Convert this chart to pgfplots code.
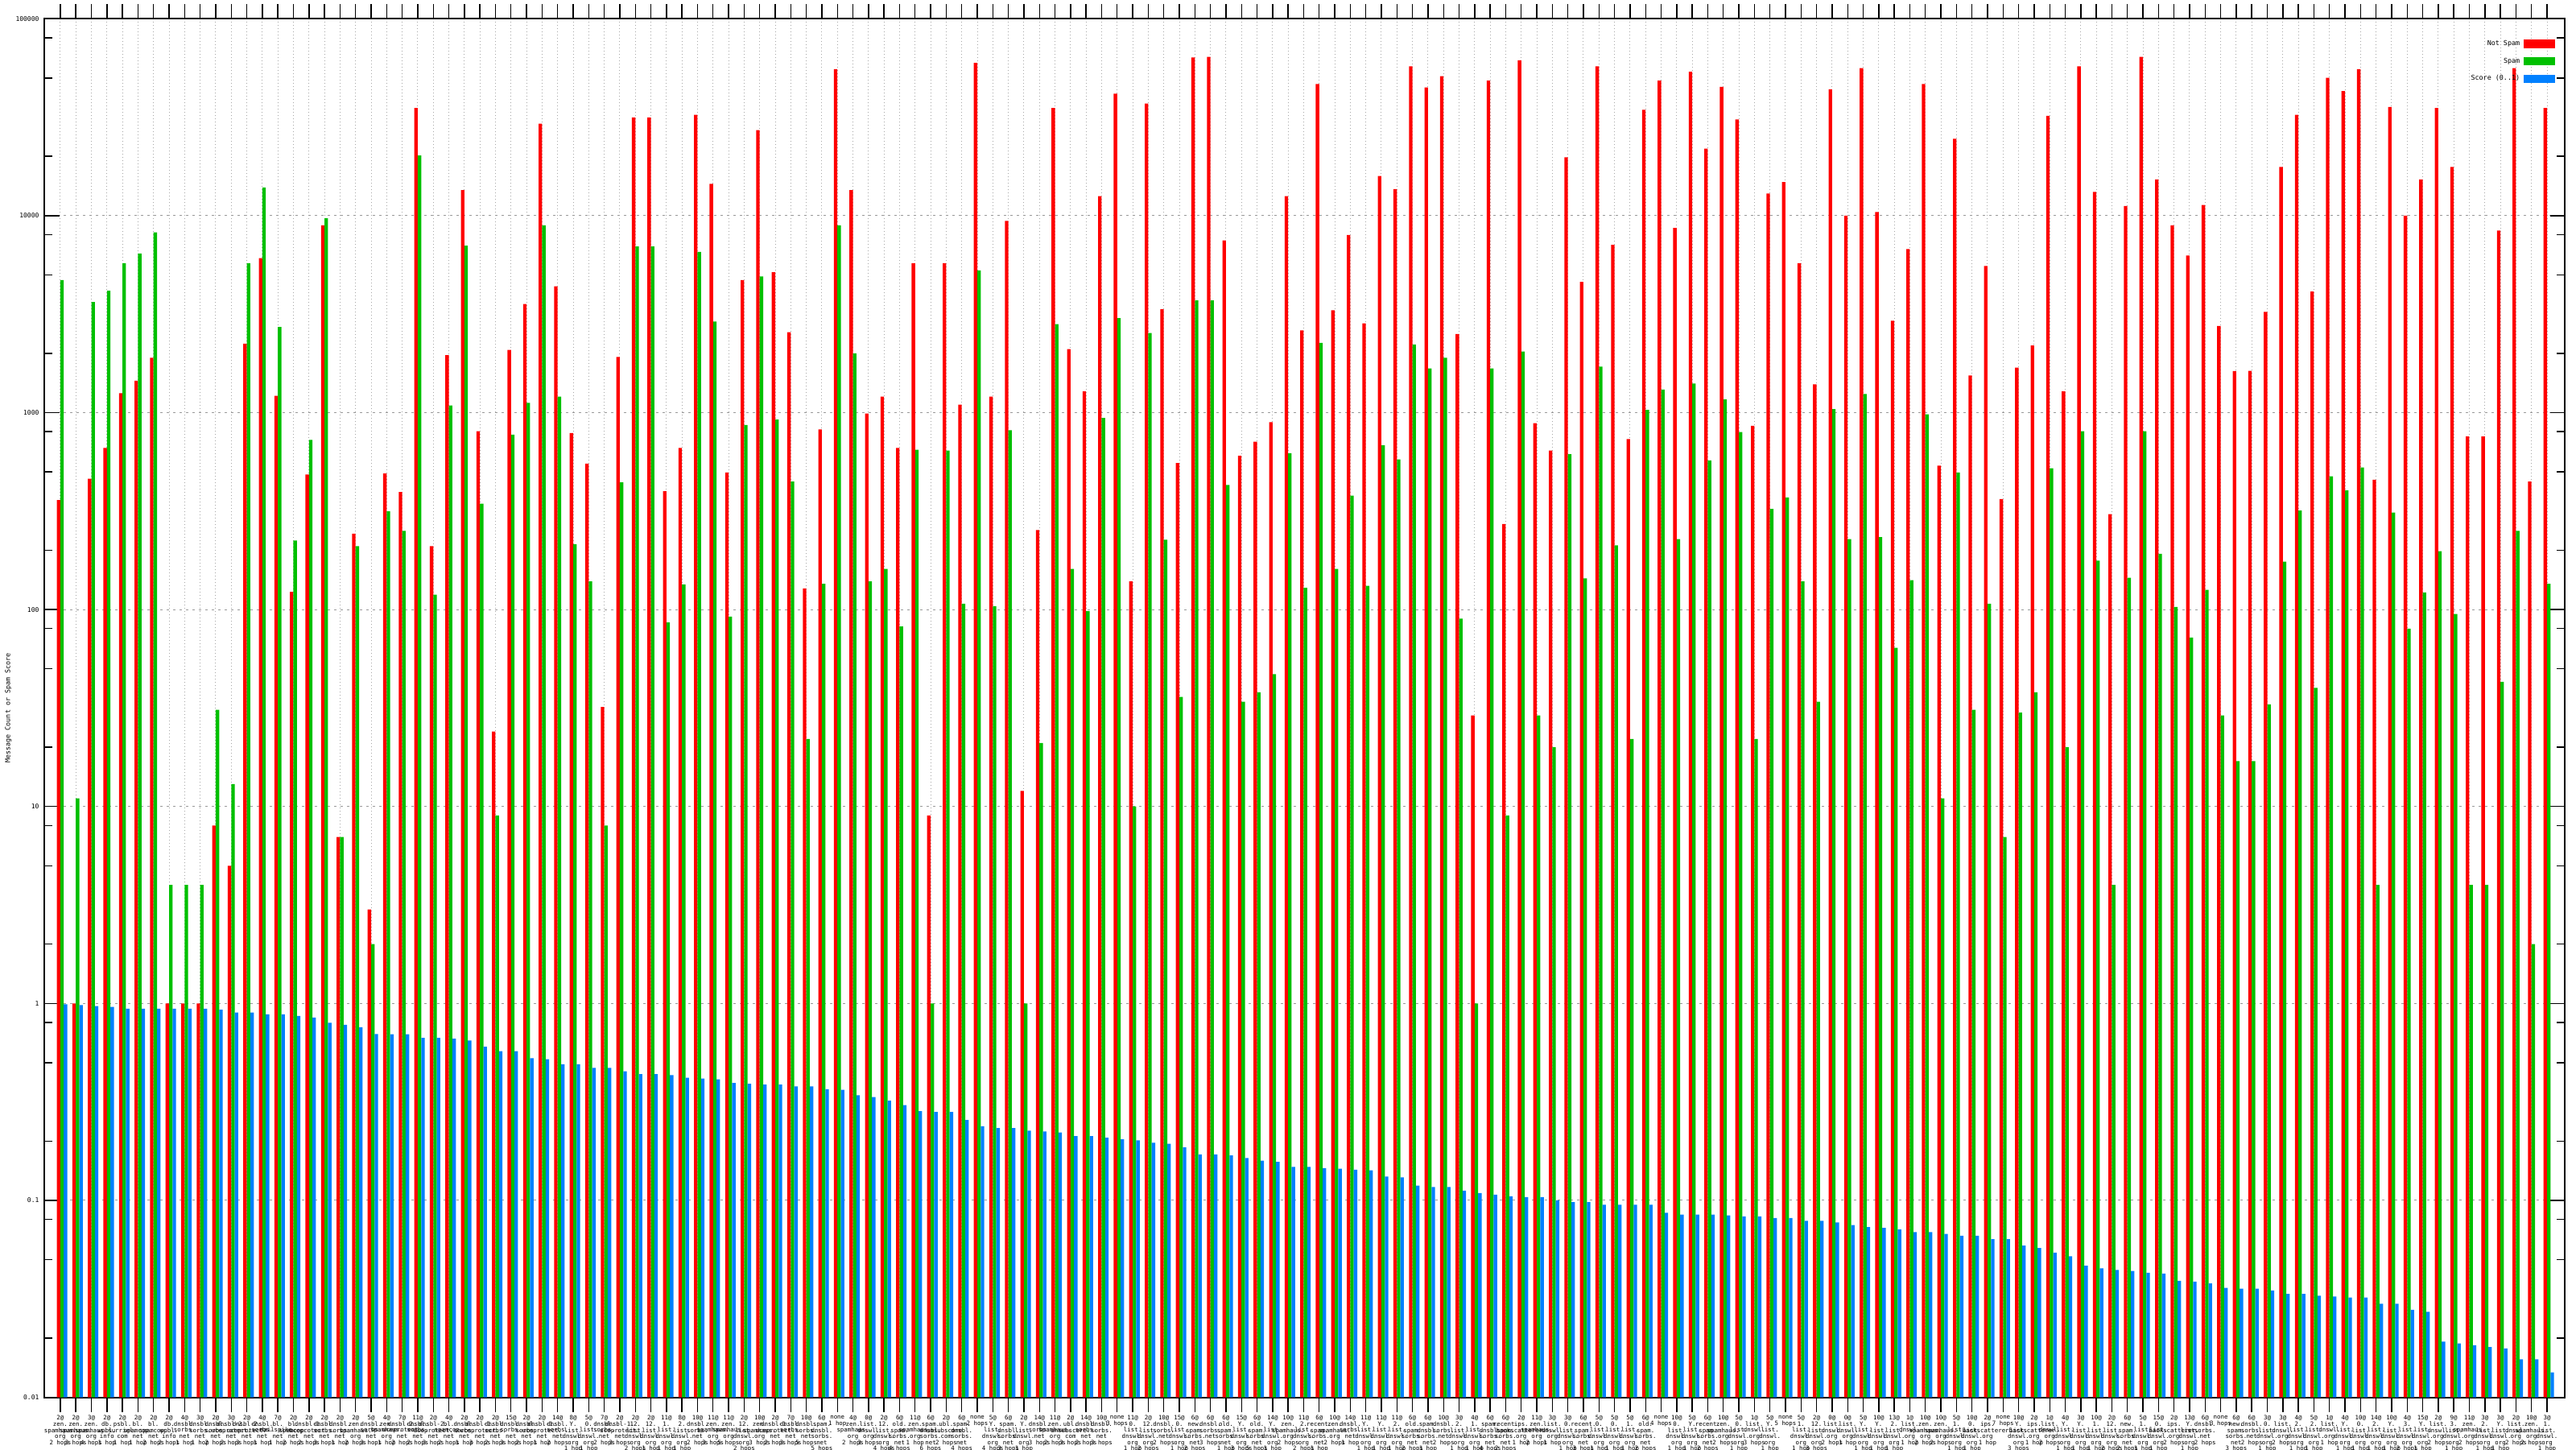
\documentclass[border=0pt]{standalone}
\usepackage{fontspec}
\setmonofont{DejaVu Sans Mono}
\usepackage{pgfplots}
\usepackage{pgfplotstable}
\pgfplotsset{compat=1.18}
\definecolor{nsred}{RGB}{255,0,0}
\definecolor{spgreen}{RGB}{0,192,0}
\definecolor{scblue}{RGB}{0,128,255}
\newcommand\lZ{zen.\\spamhaus.\\org}
\newcommand\lW{db.\\wpbl.\\info}
\newcommand\lP{psbl.\\surriel.\\com}
\newcommand\lC{bl.\\spamcop.\\net}
\newcommand\lS{dnsbl.\\sorbs.\\net}
\newcommand\lU{dnsbl-1.\\uceprotect.\\net}
\newcommand\lV{dnsbl-2.\\uceprotect.\\net}
\newcommand\lM{bl.\\mailspike.\\net}
\newcommand\lL{list.\\dnswl.\\org}
\newcommand\lD[1]{#1.\\list.\\dnswl.\\org}
\newcommand\lB{ips.\\backscatterer.\\org}
\newcommand\lN{new.\\spam.\\sorbs.\\net}
\newcommand\lO{old.\\spam.\\sorbs.\\net}
\newcommand\lR{recent.\\spam.\\sorbs.\\net}
\newcommand\lH{ubl.\\unsubscore.\\com}
\newcommand\lQ{spam.\\dnsbl.\\sorbs.\\net}
\pgfplotstableread{
x r g b
1 360 4710 0.99
2 1 11 0.98
3 461 3640 0.97
4 662 4160 0.96
5 1255 5730 0.94
6 1450 6420 0.94
7 1897 8220 0.94
8 1 4 0.94
9 1 4 0.94
10 1 4 0.94
11 8 31 0.93
12 5 13 0.90
13 2240 5730 0.90
14 6090 13900 0.88
15 1217 2723 0.88
16 123 224 0.865
17 485 726 0.848
18 8930 9700 0.797
19 7 7 0.78
20 243 210 0.757
21 3 2 0.70
22 491 315 0.697
23 395 251 0.697
24 35200 20200 0.668
25 210 119 0.668
26 1956 1086 0.662
27 13490 7040 0.648
28 805 345 0.603
29 24 9 0.573
30 2080 773 0.573
31 3560 1120 0.527
32 29300 8930 0.521
33 4380 1205 0.491
34 788 215 0.491
35 550 139 0.471
36 32 8 0.471
37 1917 442 0.452
38 31500 6970 0.438
39 31500 6970 0.438
40 399 86 0.433
41 662 134 0.420
42 32500 6550 0.416
43 14500 2897 0.412
44 496 92 0.395
45 4710 865 0.391
46 27200 4910 0.387
47 5160 921 0.387
48 2560 447 0.379
49 128 22 0.379
50 822 135 0.367
51 55500 8930 0.364
52 13490 1997 0.342
53 990 139 0.335
54 1205 161 0.321
55 662 82 0.305
56 5730 648 0.284
57 9 1 0.281
58 5730 642 0.281
59 1097 107 0.256
60 59700 5270 0.238
61 1205 104 0.233
62 9400 813 0.233
63 12 1 0.226
64 253 21 0.224
65 35200 2810 0.221
66 2100 161 0.212
67 1282 98 0.212
68 12550 940 0.208
69 41600 3020 0.204
70 139 10 0.202
71 37100 2535 0.196
72 3350 226 0.194
73 555 36 0.186
74 63500 3715 0.171
75 64000 3715 0.171
76 7490 429 0.169
77 603 34 0.164
78 711 38 0.159
79 893 47 0.157
80 12550 622 0.148
81 2612 129 0.148
82 46600 2260 0.146
83 3311 161 0.145
84 7970 379 0.143
85 2837 132 0.142
86 15900 682 0.132
87 13640 578 0.131
88 57300 2215 0.119
89 44700 1675 0.117
90 51100 1897 0.117
91 2506 90 0.112
92 29 1 0.109
93 48500 1675 0.107
94 272 9 0.105
95 61500 2040 0.104
96 884 29 0.104
97 642 20 0.100
98 19800 615 0.098
99 4610 144 0.098
100 57300 1711 0.095
101 7110 212 0.095
102 733 22 0.095
103 34500 1031 0.095
104 48500 1309 0.0865
105 8650 228 0.0848
106 53800 1406 0.0848
107 21900 572 0.0848
108 45100 1167 0.0839
109 30800 797 0.083
110 857 22 0.083
111 12940 324 0.0813
112 14800 371 0.0813
113 5730 139 0.0788
114 1390 34 0.0788
115 43800 1042 0.0773
116 10000 228 0.0749
117 56100 1242 0.0733
118 10420 233 0.0726
119 2926 64 0.0711
120 6760 141 0.069
121 46600 980 0.069
122 538 11 0.0676
123 24550 496 0.0662
124 1542 31 0.0662
125 5550 107 0.0635
126 364 7 0.0635
127 1693 30 0.059
128 2193 38 0.0573
129 32100 522 0.0543
130 1282 20 0.0521
131 57300 805 0.0466
132 13200 177 0.0452
133 305 4 0.0443
134 11200 145 0.0438
135 64000 805 0.0429
136 15280 192 0.0425
137 8930 103 0.0391
138 6280 72 0.0387
139 11320 126 0.0379
140 2750 29 0.036
141 1625 17 0.0356
142 1630 17 0.0356
143 3245 33 0.0349
144 17650 175 0.0335
145 32500 318 0.0335
146 4115 40 0.0328
147 50100 475 0.0325
148 42900 403 0.0321
149 55500 527 0.0321
150 456 4 0.0299
151 35600 311 0.0299
152 10000 80 0.0278
153 15280 122 0.0272
154 35200 198 0.0192
155 17650 95 0.0188
156 757 4 0.0184
157 757 4 0.018
158 8390 43 0.0177
159 56100 251 0.0156
160 447 2 0.0156
161 35200 135 0.0134
}\rbl
\pgfplotsset{mylegend/.style={legend image code/.code={\fill[##1,draw=none] (0pt,-1.3pt) rectangle (9.8pt,1.3pt);}}}
\begin{document}
\begin{tikzpicture}
\begin{axis}[
  scale only axis, width=782.7pt, height=428.1pt,
  at={(0pt,0pt)}, anchor=south west,
  ymode=log, log origin y=infty,
  ymin=0.01, ymax=100000, xmin=-0.02, xmax=162.14,
  ybar, bar width=0.225,
  axis line style={line width=0.5pt},
  tick style={black, line width=0.35pt},
  major tick length=4.6pt, minor tick length=2.5pt,
  xmajorgrids, ymajorgrids,
  major x grid style={gray!70, line width=0.25pt, dash pattern=on 0.25pt off 0.75pt},
  major y grid style={gray!80, line width=0.25pt, dash pattern=on 0.8pt off 1.2pt},
  ytick={0.01,0.1,1,10,100,1000,10000,100000},
  yticklabels={0.01,0.1,1,10,100,1000,10000,100000},
  minor ytick={0.02,0.05,0.08,0.2,0.5,0.8,2,5,8,20,50,80,200,500,800,2000,5000,8000,20000,50000,80000},
  yticklabel style={font=\fontsize{2}{2.4}\selectfont\ttfamily, anchor=east, inner sep=0pt, xshift=-1.5pt},
  xtick={1,...,161},
  xticklabel style={font=\fontsize{1.85}{1.9}\selectfont\ttfamily, align=center, anchor=north, inner sep=0pt, yshift=-0.9pt},
  xticklabels={
{2@\\\lZ\\2 hops},{2@\\\lZ\\3 hops},{3@\\\lZ\\4 hops},{2@\\\lW\\1 hop},{2@\\\lP\\1 hop},
{2@\\\lC\\1 hop},{2@\\\lC\\2 hops},{2@\\\lW\\2 hops},{4@\\\lS\\1 hop},{3@\\\lS\\1 hop},
{2@\\\lS\\2 hops},{3@\\\lV\\2 hops},{2@\\\lV\\3 hops},{4@\\\lS\\1 hop},{7@\\\lM\\1 hop},
{2@\\\lC\\2 hops},{2@\\\lU\\2 hops},{2@\\\lS\\3 hops},{2@\\\lS\\1 hop},{2@\\\lZ\\2 hops},
{5@\\\lS\\3 hops},{4@\\\lZ\\1 hop},{7@\\\lV\\2 hops},{11@\\\lS\\2 hops},{2@\\\lV\\3 hops},
{4@\\\lC\\2 hops},{2@\\\lS\\1 hop},{2@\\\lU\\3 hops},{2@\\\lS\\2 hops},{15@\\\lS\\3 hops},
{2@\\\lS\\2 hops},{2@\\\lU\\1 hop},{14@\\\lS\\2 hops},{8@\\\lD{Y}\\1 hop},{5@\\\lD{0}\\1 hop},
{7@\\\lS\\2 hops},{2@\\\lU\\3 hops},{2@\\\lD{12}\\2 hops},{2@\\\lD{12}\\1 hop},{11@\\\lD{1}\\1 hop},
{8@\\\lD{2}\\1 hop},{10@\\\lS\\2 hops},{11@\\\lZ\\3 hops},{11@\\\lZ\\5 hops},{2@\\\lD{12}\\2 hops},
{10@\\\lZ\\3 hops},{2@\\\lU\\2 hops},{7@\\\lS\\3 hops},{10@\\\lS\\5 hops},{6@\\\lQ\\5 hops},
{none\\1 hop},{4@\\\lZ\\2 hops},{0@\\\lL\\3 hops},{2@\\\lD{12}\\4 hops},{6@\\\lO\\4 hops},
{11@\\\lZ\\1 hop},{6@\\\lQ\\6 hops},{2@\\\lH\\2 hops},{6@\\\lQ\\4 hops},{none\\2 hops},
{5@\\\lD{Y}\\4 hops},{6@\\\lQ\\3 hops},{2@\\\lD{Y}\\1 hop},{14@\\\lS\\3 hops},{11@\\\lZ\\2 hops},
{2@\\\lH\\3 hops},{14@\\\lS\\2 hops},{10@\\\lS\\3 hops},{none\\3 hops},{11@\\\lD{0}\\1 hop},
{2@\\\lD{12}\\2 hops},{10@\\\lS\\2 hops},{15@\\\lD{0}\\1 hop},{6@\\\lN\\2 hops},{6@\\\lS\\3 hops},
{6@\\\lO\\1 hop},{15@\\\lD{Y}\\3 hops},{6@\\\lO\\5 hops},{14@\\\lD{Y}\\1 hop},{10@\\\lZ\\2 hops},
{11@\\\lD{2}\\2 hops},{6@\\\lR\\1 hop},{10@\\\lZ\\2 hops},{14@\\\lS\\1 hop},{11@\\\lD{Y}\\1 hop},
{11@\\\lD{Y}\\1 hop},{11@\\\lD{2}\\1 hop},{6@\\\lO\\2 hops},{6@\\\lQ\\1 hop},{10@\\\lS\\2 hops},
{3@\\\lD{2}\\1 hop},{4@\\\lD{1}\\1 hop},{6@\\\lQ\\4 hops},{6@\\\lR\\2 hops},{2@\\\lB\\1 hop},
{11@\\\lZ\\2 hops},{3@\\\lL\\1 hop},{3@\\\lD{0}\\1 hop},{6@\\\lR\\3 hops},{5@\\\lD{0}\\1 hop},
{5@\\\lD{0}\\1 hop},{5@\\\lD{1}\\1 hop},{6@\\\lO\\2 hops},{none\\4 hops},{10@\\\lD{0}\\1 hop},
{5@\\\lD{Y}\\1 hop},{6@\\\lR\\2 hops},{10@\\\lZ\\2 hops},{5@\\\lD{0}\\1 hop},{1@\\\lL\\3 hops},
{5@\\\lD{Y}\\1 hop},{none\\5 hops},{5@\\\lD{1}\\1 hop},{2@\\\lD{12}\\3 hops},{0@\\\lL\\2 hops},
{0@\\\lL\\1 hop},{5@\\\lD{Y}\\1 hop},{10@\\\lD{Y}\\1 hop},{13@\\\lD{2}\\1 hop},{1@\\\lL\\1 hop},
{10@\\\lZ\\2 hops},{10@\\\lZ\\2 hops},{5@\\\lD{1}\\1 hop},{10@\\\lD{0}\\1 hop},{2@\\\lB\\1 hop},
{none\\7 hops},{10@\\\lD{Y}\\3 hops},{2@\\\lB\\1 hop},{1@\\\lL\\2 hops},{4@\\\lD{Y}\\1 hop},
{3@\\\lD{Y}\\1 hop},{10@\\\lD{1}\\1 hop},{2@\\\lD{12}\\2 hops},{6@\\\lN\\2 hops},{5@\\\lD{1}\\1 hop},
{15@\\\lD{0}\\1 hop},{2@\\\lB\\2 hops},{13@\\\lD{Y}\\1 hop},{6@\\\lS\\2 hops},{none\\3 hops},
{6@\\\lN\\3 hops},{6@\\\lS\\2 hops},{3@\\\lD{0}\\1 hop},{3@\\\lL\\2 hops},{4@\\\lD{2}\\1 hop},
{5@\\\lD{2}\\1 hop},{1@\\\lL\\1 hop},{4@\\\lD{Y}\\1 hop},{10@\\\lD{0}\\1 hop},{14@\\\lD{2}\\1 hop},
{10@\\\lD{Y}\\1 hop},{4@\\\lD{3}\\2 hops},{15@\\\lD{Y}\\1 hop},{2@\\\lL\\2 hops},{9@\\\lD{3}\\1 hop},
{11@\\\lZ\\2 hops},{3@\\\lD{2}\\1 hop},{3@\\\lD{Y}\\1 hop},{2@\\\lL\\2 hops},{10@\\\lZ\\2 hops},
{3@\\\lD{1}\\1 hop}},
  title={RBL Statistics - Thu Aug 15 12:58:18 EDT 2019 - Useless - Relayed through other SMTP servers},
  title style={font=\fontsize{2}{2.4}\selectfont\ttfamily, at={(axis description cs:0.5,1.0062)}, anchor=center, inner sep=0pt},
  ylabel={Message Count or Spam Score},
  ylabel style={font=\fontsize{2.1}{2.5}\selectfont\ttfamily, at={(axis description cs:-0.0143,0.5)}, anchor=center, inner sep=0pt},
  legend plot pos=right,
  legend cell align=right,
  legend style={at={(rel axis cs:1,1)}, anchor=north east, xshift=-2.75pt, yshift=-6.3pt,
    draw=none, fill=none, inner sep=0pt, row sep=2.85pt, column sep=1.2pt,
    font=\fontsize{2.1}{2.5}\selectfont\ttfamily,
    nodes={inner sep=0pt, text height=1.5pt, text depth=0.5pt}},
]
\addplot[fill=nsred, draw=none, bar shift=-0.1125, mylegend] table[x=x,y=r]{\rbl};
\addplot[fill=spgreen, draw=none, bar shift=0.1125, mylegend] table[x=x,y=g]{\rbl};
\addplot[fill=scblue, draw=none, bar shift=0.3375, mylegend] table[x=x,y=b]{\rbl};
\legend{Not Spam,Spam,Score (0..1)}
\end{axis}
\pgfresetboundingbox
\useasboundingbox (-13.8pt,-16.1pt) rectangle (786.2pt,433.9pt);
\end{tikzpicture}
\end{document}
